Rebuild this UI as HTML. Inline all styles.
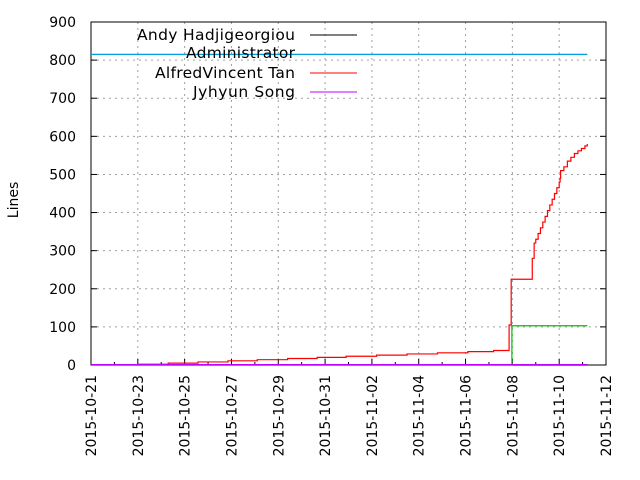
<!DOCTYPE html>
<html><head><meta charset="utf-8"><style>
body{margin:0;background:#fff;}
svg{display:block;font-family:"DejaVu Sans","Liberation Sans",sans-serif;}
</style></head><body>
<svg id="c" width="640" height="480">
<g id="grid"></g>
<g id="axes"></g>
<g id="series"></g>
<text x="18" y="200" font-size="14" text-anchor="middle" transform="rotate(-90 18 200)">Lines</text>
<g font-size="15.5">
<text x="295" y="40" text-anchor="end" textLength="158">Andy Hadjigeorgiou</text>
<line x1="310" y1="35" x2="357" y2="35" stroke="#000"/>
<text x="295" y="58" text-anchor="end" textLength="109">Administrator</text>
<text x="295" y="78" text-anchor="end" textLength="140">AlfredVincent Tan</text>
<line x1="310" y1="73" x2="357" y2="73" stroke="#f00"/>
<text x="295" y="97" text-anchor="end" textLength="102">Jyhyun Song</text>
<line x1="310" y1="92" x2="357" y2="92" stroke="#c000ff"/>
</g>
</svg>
<script>
const yTicks=[0,100,200,300,400,500,600,700,800,900];
const xTickLabels=["2015-10-21","2015-10-23","2015-10-25","2015-10-27","2015-10-29","2015-10-31","2015-11-02","2015-11-04","2015-11-06","2015-11-08","2015-11-10","2015-11-12"];
const adminDays=[0,21.2];
const adminVals=[815,815];
const alfredDays=[2.0,3.3,4.57,5.85,7.1,8.4,9.66,10.9,12.2,13.5,14.8,16.1,17.2,17.86,17.95,18.85,18.93,19.0,19.1,19.2,19.3,19.4,19.5,19.6,19.7,19.8,19.9,20.0,20.04,20.06,20.2,20.35,20.5,20.65,20.8,20.95,21.1,21.2];
const alfredVals=[2,5,8,11,14,17,20,23,26,29,32,35,38,105,225,280,320,330,345,360,375,390,405,420,435,450,465,480,490,510,520,535,545,555,562,568,575,580];
const greenDays=[0,17.98,21.2];
const greenVals=[0,103,103];
const jyhyunDays=[0,21.2];
const jyhyunVals=[1,1];
const andyDays=[0,21.2];
const andyVals=[0,0];
const X0=91,X1=606,Y0=365,Y1=22;
const x=d=>X0+d*(X1-X0)/22;
const y=v=>Y0-v*(Y0-Y1)/900;
const NS="http://www.w3.org/2000/svg";
function mk(t,p,a){const e=document.createElementNS(NS,t);for(const k in a)e.setAttribute(k,a[k]);p.appendChild(e);return e;}
const grid=document.getElementById('grid'),axes=document.getElementById('axes'),ser=document.getElementById('series');
yTicks.forEach(v=>{
 if(v>0){const g=mk('line',grid,{x1:X0,x2:X1,y1:y(v),y2:y(v),stroke:'#a0a0a0','stroke-dasharray':'2,4'});
 
 }
 const t=mk('text',axes,{x:X0-15,y:y(v)+5,'font-size':14,'text-anchor':'end'});t.textContent=v;
 
 
 mk('line',axes,{x1:X0,x2:X0+6,y1:y(v),y2:y(v),stroke:'#000'});
 mk('line',axes,{x1:X1,x2:X1-6,y1:y(v),y2:y(v),stroke:'#000'});
});
xTickLabels.forEach((s,i)=>{
 const xx=x(i*2);
 const g=mk('line',grid,{x1:xx,x2:xx,y1:Y1,y2:Y0,stroke:'#a0a0a0','stroke-dasharray':'2,4'});
 
 
 mk('line',axes,{x1:xx,x2:xx,y1:Y0,y2:Y0-6,stroke:'#000'});
 if(i*2+1<22) mk('line',axes,{x1:x(i*2+1),x2:x(i*2+1),y1:Y0,y2:Y0-3,stroke:'#000'});
 const t=mk('text',axes,{x:0,y:0,'font-size':14,'text-anchor':'end',transform:`translate(${xx+5},${Y0+10}) rotate(-90)`});
 t.textContent=s;
 
 
});
const b=mk('rect',axes,{x:X0,y:Y1,width:X1-X0,height:Y0-Y1,fill:'none',stroke:'#000'});


function steps(ds,vs,col,name){
 let d=`M${x(ds[0])},${y(vs[0])}`;
 for(let i=1;i<ds.length;i++){d+=`L${x(ds[i])},${y(vs[i-1])}L${x(ds[i])},${y(vs[i])}`;}
 const p=mk('path',ser,{d:d,fill:'none',stroke:col,'stroke-width':1.2});
 
 
}
steps(andyDays,andyVals,'#000','andy-line');
steps(adminDays,adminVals,'#009ee0','administrator-line');
steps(greenDays,greenVals,'#00c000','other-author-line');
steps(alfredDays,alfredVals,'#f00','alfredvincent-line');
steps(jyhyunDays,jyhyunVals,'#c000ff','jyhyun-line');
</script>
</body></html>
